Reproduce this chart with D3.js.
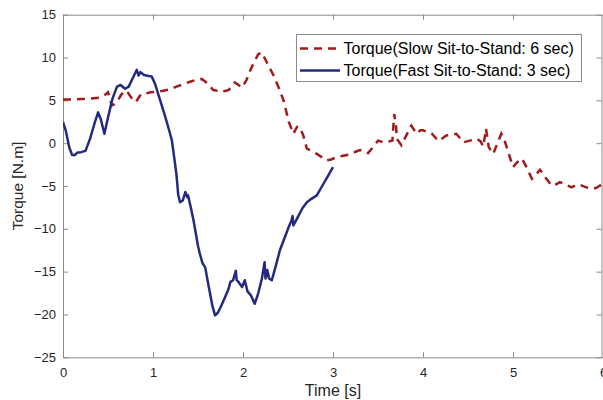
<!DOCTYPE html>
<html><head><meta charset="utf-8">
<script src="https://cdn.jsdelivr.net/npm/d3@7"></script>
<style>
html,body{margin:0;padding:0;background:#fff;}
svg{display:block;font-family:"Liberation Sans",Arial,sans-serif;}
</style></head>
<body><svg id="c" width="603" height="400"></svg>
<script>
const xTicks = [0,1,2,3,4,5,6];
const yTicks = [15,10,5,0,-5,-10,-15,-20,-25];
const seriesNames = ["Torque(Slow Sit-to-Stand: 6 sec)", "Torque(Fast Sit-to-Stand: 3 sec)"];

const slowT = [0,0.1,0.2,0.3,0.4,0.45,0.5,0.52,0.54,0.58,0.61,0.65,0.69,0.72,0.76,0.81,0.84,0.87,0.92,0.97,1.04,1.1,1.19,1.26,1.34,1.42,1.48,1.54,1.58,1.61,1.67,1.72,1.76,1.8,1.84,1.88,1.91,1.95,1.99,2.04,2.08,2.13,2.17,2.21,2.27,2.34,2.4,2.45,2.51,2.56,2.6,2.63,2.67,2.71,2.76,2.82,2.87,2.93,2.98,3.04,3.1,3.19,3.25,3.3,3.35,3.39,3.45,3.5,3.56,3.62,3.66,3.68,3.7,3.71,3.76,3.8,3.87,3.93,3.97,4.0,4.05,4.1,4.17,4.22,4.26,4.32,4.37,4.41,4.45,4.52,4.6,4.64,4.67,4.7,4.72,4.73,4.78,4.82,4.87,4.9,4.93,4.97,5.0,5.05,5.1,5.15,5.21,5.26,5.3,5.36,5.43,5.48,5.52,5.58,5.65,5.7,5.73,5.8,5.86,5.9,5.93,5.97,6.0];
const slowY = [5.1,5.1,5.15,5.2,5.3,5.5,5.95,5.3,4.4,4.6,5.0,5.7,6.15,5.9,5.3,4.8,5.3,5.75,5.8,5.95,6.0,6.1,6.3,6.6,6.9,7.2,7.4,7.5,7.2,6.9,6.2,6.1,5.95,6.1,6.2,6.7,7.1,6.8,6.5,7.4,8.5,9.6,10.4,10.6,9.3,7.9,6.4,5.0,2.45,1.1,1.9,1.9,0.9,-0.65,-0.9,-1.25,-1.6,-2.0,-1.9,-1.6,-1.5,-1.3,-1.0,-0.8,-0.9,-1.15,-0.4,0.3,0.1,0.2,0.3,3.4,2.0,0.5,-0.25,0.6,2.05,1.1,1.5,1.5,1.3,1.1,0.25,0.6,0.9,1.0,1.1,0.6,0.1,0.3,0.5,0.2,-0.4,1.7,0.3,-0.45,-1.25,-0.2,1.1,0.5,-0.45,-1.8,-2.8,-2.2,-1.8,-2.8,-4.15,-3.6,-3.1,-4.0,-4.95,-4.8,-4.55,-4.8,-5.15,-4.9,-4.8,-5.1,-5.3,-5.3,-5.2,-4.9,-4.55];

const fastT = [0,0.03,0.07,0.1,0.13,0.16,0.2,0.25,0.3,0.35,0.39,0.42,0.46,0.5,0.55,0.6,0.64,0.69,0.73,0.78,0.82,0.84,0.86,0.9,0.95,0.985,1.02,1.08,1.13,1.19,1.21,1.24,1.26,1.28,1.3,1.33,1.36,1.38,1.39,1.42,1.45,1.47,1.5,1.52,1.55,1.58,1.62,1.66,1.69,1.72,1.76,1.8,1.84,1.86,1.89,1.92,1.93,1.95,1.99,2.02,2.05,2.09,2.13,2.17,2.21,2.24,2.25,2.27,2.29,2.32,2.36,2.41,2.45,2.5,2.54,2.55,2.56,2.6,2.66,2.71,2.76,2.82,2.88,2.94,3.0];
const fastY = [2.45,1.5,-0.5,-1.35,-1.4,-1.1,-1.05,-0.9,0.5,2.3,3.6,2.8,1.1,3.0,5.2,6.6,6.8,6.35,6.6,7.7,8.57,7.9,8.3,7.95,7.85,7.8,7.0,5.0,3.3,1.1,0.3,-2.0,-3.6,-6.0,-6.9,-6.7,-5.7,-6.3,-6.1,-7.5,-9.0,-10.2,-12.0,-12.9,-14.0,-14.5,-16.8,-19.0,-20.1,-19.8,-18.95,-18.0,-17.0,-16.2,-16.0,-14.9,-16.0,-16.2,-16.8,-16.0,-17.3,-17.8,-18.75,-17.5,-15.8,-13.9,-15.8,-14.8,-15.8,-16.0,-14.5,-12.5,-11.4,-10.0,-9.0,-8.5,-9.6,-8.8,-7.6,-6.9,-6.5,-6.1,-5.0,-3.9,-2.8];

const L = 63, R = 603, T = 14.7, B = 357.3;
const svg = d3.select("#c");
const x = d3.scaleLinear().domain([0,6]).range([L,R]);
const y = d3.scaleLinear().domain([-25,15]).range([B,T]);
const axisCol = "#8a8a8a", textCol = "#262626";
const red = "#a01c1c", blue = "#232a80";

function styleAxis(g){
  g.select(".domain").attr("stroke", axisCol).attr("stroke-width",1);
  g.selectAll(".tick line").attr("stroke", axisCol);
  g.selectAll(".tick text").attr("fill", textCol).attr("font-size",13).attr("font-family","Liberation Sans, Arial, sans-serif");
}
svg.append("g").attr("transform",`translate(0,${B})`)
  .call(d3.axisBottom(x).tickValues(xTicks).tickFormat(d3.format("d")).tickSizeInner(-5).tickSizeOuter(0).tickPadding(10))
  .call(styleAxis);
svg.append("g").attr("transform",`translate(0,${T})`)
  .call(d3.axisTop(x).tickValues(xTicks).tickFormat("").tickSizeInner(-5).tickSizeOuter(0))
  .call(styleAxis);
svg.append("g").attr("transform",`translate(${L},0)`)
  .call(d3.axisLeft(y).tickValues(yTicks).tickFormat(d3.format("d")).tickSizeInner(-5).tickSizeOuter(0).tickPadding(7))
  .call(styleAxis);
svg.append("g").attr("transform",`translate(${R-1.5},0)`)
  .call(d3.axisRight(y).tickValues(yTicks).tickFormat("").tickSizeInner(-5).tickSizeOuter(0))
  .call(styleAxis);

svg.append("clipPath").attr("id","clp").append("rect")
  .attr("x",L).attr("y",T).attr("width",R-L).attr("height",B-T);

const line = d3.line().x(d=>x(d[0])).y(d=>y(d[1]));
const slow = slowT.map((t,i)=>[t,slowY[i]]);
const fast = fastT.map((t,i)=>[t,fastY[i]]);

svg.append("path").datum(slow).attr("d",line).attr("fill","none")
  .attr("stroke",red).attr("stroke-width",2.5).attr("stroke-dasharray","8,6")
  .attr("clip-path","url(#clp)");
svg.append("path").datum(fast).attr("d",line).attr("fill","none")
  .attr("stroke",blue).attr("stroke-width",2.5).attr("stroke-linejoin","round")
  .attr("clip-path","url(#clp)");

svg.append("text").attr("x",(L+R)/2).attr("y",396).attr("text-anchor","middle")
  .attr("font-size",16).attr("fill",textCol).text("Time [s]");
svg.append("text").attr("transform",`translate(23,${(T+B)/2}) rotate(-90)`).attr("text-anchor","middle")
  .attr("font-size",15.5).attr("fill",textCol).text("Torque [N.m]");

const lg = svg.append("g");
lg.append("rect").attr("x",296.5).attr("y",34.5).attr("width",285).attr("height",47)
  .attr("fill","#fff").attr("stroke","#8a8a8a").attr("stroke-width",1);
const rows = [{name:seriesNames[0],col:red,dash:"8,6",yy:48.5},{name:seriesNames[1],col:blue,dash:null,yy:70.5}];
rows.forEach(r=>{
  lg.append("line").attr("x1",300).attr("x2",340).attr("y1",r.yy).attr("y2",r.yy)
    .attr("stroke",r.col).attr("stroke-width",2.5).attr("stroke-dasharray",r.dash);
  lg.append("text").attr("x",343.5).attr("y",r.yy+5.5).attr("font-size",16).attr("fill","#000").text(r.name);
});
</script></body></html>
